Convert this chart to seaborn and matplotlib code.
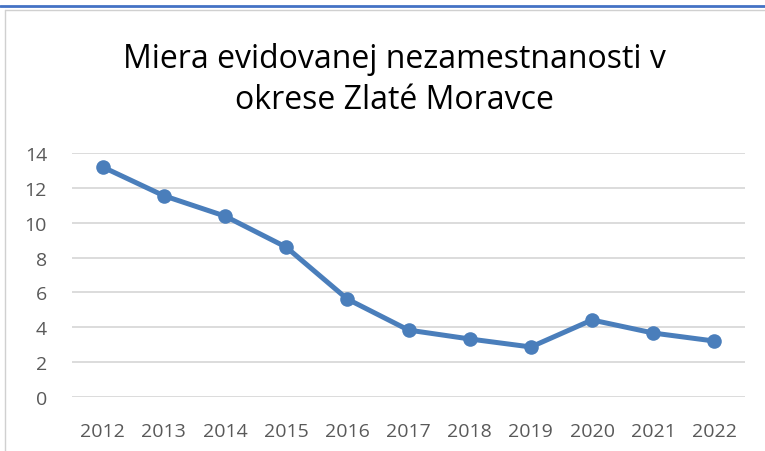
import matplotlib
matplotlib.use("Agg")
import matplotlib.pyplot as plt
import seaborn as sns
import pandas as pd
from matplotlib.lines import Line2D

# Data
roky = ["2012", "2013", "2014", "2015", "2016", "2017", "2018", "2019", "2020", "2021", "2022"]
miera = [13.2, 11.55, 10.38, 8.6, 5.62, 3.84, 3.33, 2.87, 4.42, 3.67, 3.21]
y_ticks = [0, 2, 4, 6, 8, 10, 12, 14]

df = pd.DataFrame({"Rok": roky, "Miera": miera})

sns.set_theme(style="white")
plt.rcParams["font.family"] = ["Open Sans", "DejaVu Sans"]

W, H = 765, 452
fig = plt.figure(figsize=(W / 100, H / 100), dpi=100)
ax = fig.add_axes([72 / W, 54 / H, (745 - 72) / W, (398 - 154) / H])

sns.lineplot(data=df, x="Rok", y="Miera", ax=ax, color="#4A7EBB", linewidth=3.6,
             marker="o", markersize=10.5, markeredgewidth=0, sort=False)

ax.set_xlim(-0.5, len(roky) - 0.5)
ax.set_ylim(0, 14)
ax.set_yticks(y_ticks)
ax.set_yticklabels([str(t) for t in y_ticks])
ax.grid(axis="y", color="#D9D9D9", linewidth=1.3)
ax.set_axisbelow(True)
for s in ax.spines.values():
    s.set_visible(False)
ax.tick_params(axis="both", length=0, labelsize=14, labelcolor="#595959")
ax.tick_params(axis="x", pad=18)
ax.tick_params(axis="y", pad=18)
ax.set_xlabel("")
ax.set_ylabel("")

fig.text(394 / W, 1 - 80 / H, "Miera evidovanej nezamestnanosti v\nokrese Zlaté Moravce",
         ha="center", va="center", fontsize=23, color="#000000", linespacing=1.35)

# frame lines like the original screenshot
fig.add_artist(Line2D([0, 1], [1 - 7 / H, 1 - 7 / H], color="#4472C4", linewidth=2, transform=fig.transFigure))
fig.add_artist(Line2D([5 / W, 1], [1 - 11 / H, 1 - 11 / H], color="#D0D0D0", linewidth=1, transform=fig.transFigure))
fig.add_artist(Line2D([5 / W, 5 / W], [0, 1 - 11 / H], color="#D0D0D0", linewidth=1, transform=fig.transFigure))

fig.savefig("out.png", dpi=100)
